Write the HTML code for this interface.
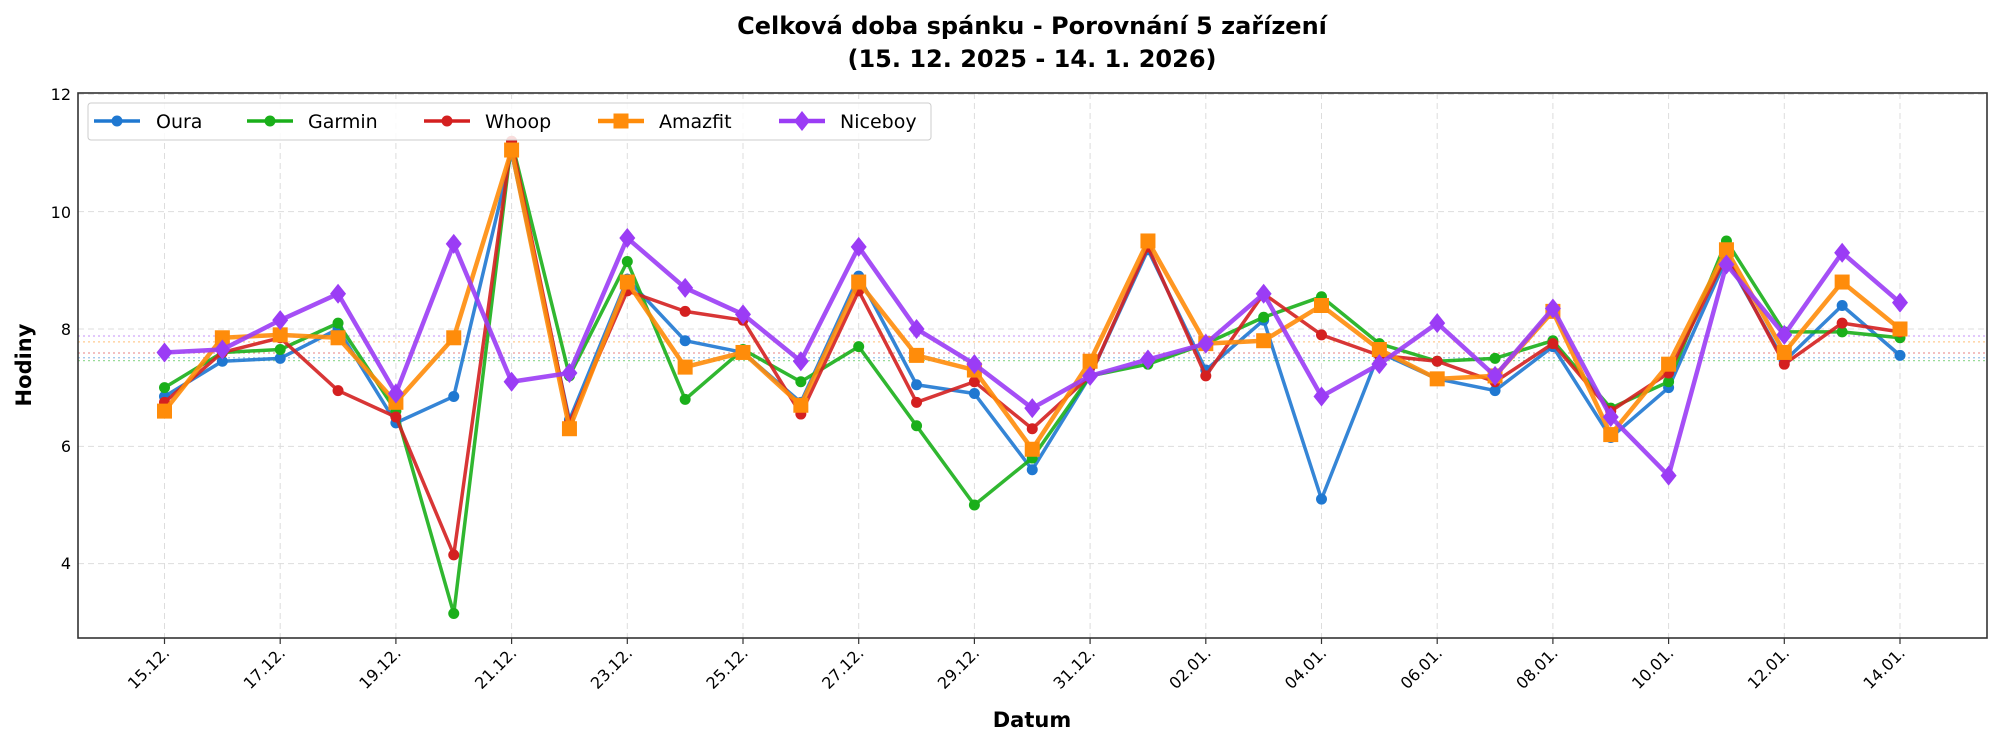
<!DOCTYPE html>
<html><head><meta charset="utf-8"><style>
html,body{margin:0;padding:0;background:#fff}
svg{display:block}
text{font-family:"DejaVu Sans","Liberation Sans",sans-serif}
</style></head><body>
<svg id="s" width="2000" height="745" xmlns="http://www.w3.org/2000/svg">
<rect width="2000" height="745" fill="#fff"/>
<g id="grid"></g>
<g id="series"></g>
<rect x="78" y="93" width="1909" height="545" fill="none" stroke="#333" stroke-width="1.6"/>
<text x="1032" y="34" text-anchor="middle" font-size="24" font-weight="bold">Celková doba spánku - Porovnání 5 zařízení</text>
<text x="1032" y="67" text-anchor="middle" font-size="24" font-weight="bold">(15. 12. 2025 - 14. 1. 2026)</text>
<text transform="translate(31,365) rotate(-90)" text-anchor="middle" font-size="21" font-weight="bold">Hodiny</text>
<text x="1032" y="727" text-anchor="middle" font-size="21" font-weight="bold">Datum</text>
<g font-size="16" text-anchor="end">
<text x="71" y="569">4</text>
<text x="71" y="452">6</text>
<text x="71" y="335">8</text>
<text x="71" y="218">10</text>
<text x="71" y="100">12</text>
</g>
<g id="xt" font-size="16" text-anchor="end"></g>
<g id="legend">
<rect x="88" y="103" width="843" height="37" rx="3" fill="#fff" fill-opacity="0.85" stroke="#ccc"/>
<g font-size="19">
<text x="156" y="128">Oura</text>
<text x="308" y="128">Garmin</text>
<text x="485" y="128">Whoop</text>
<text x="659" y="128">Amazfit</text>
<text x="840" y="128">Niceboy</text>
</g>
</g>
</svg>
<script>
const NS="http://www.w3.org/2000/svg";
const X=i=>164.5+57.85*i, Y=v=>94.3+(12-v)*58.67;
function el(p,t,a){const e=document.createElementNS(NS,t);for(const k in a)e.setAttribute(k,a[k]);p.appendChild(e);return e;}
const g=document.getElementById('grid'),xt=document.getElementById('xt');
[4,6,8,10,12].forEach(v=>el(g,'line',{x1:78,x2:1987,y1:Y(v),y2:Y(v),stroke:'#ddd','stroke-dasharray':'6,4','stroke-width':1}));
const labs=["15.12.","17.12.","19.12.","21.12.","23.12.","25.12.","27.12.","29.12.","31.12.","02.01.","04.01.","06.01.","08.01.","10.01.","12.01.","14.01."];
labs.forEach((l,k)=>{const x=X(2*k);
el(g,'line',{x1:x,x2:x,y1:93,y2:638,stroke:'#ddd','stroke-dasharray':'6,4','stroke-width':1});
el(g,'line',{x1:x,x2:x,y1:638,y2:644,stroke:'#333','stroke-width':1.2});
const t=el(xt,'text',{transform:`translate(${x+6},${654}) rotate(-45)`});t.textContent=l;});
const S=[
{c:'#1f78d1',w:3.5,m:'o',ms:5.5,mean:7.51,d:[6.85,7.45,7.5,8.0,6.4,6.85,11.0,6.45,8.85,7.8,7.6,6.75,8.9,7.05,6.9,5.6,7.2,9.35,7.3,8.15,5.1,7.6,7.15,6.95,7.7,6.15,7.0,9.2,7.45,8.4,7.55]},
{c:'#1aaf1a',w:3.5,m:'o',ms:5.5,mean:7.46,d:[7.0,7.6,7.65,8.1,6.6,3.15,11.2,7.2,9.15,6.8,7.65,7.1,7.7,6.35,5.0,5.8,7.2,7.4,7.75,8.2,8.55,7.75,7.45,7.5,7.8,6.65,7.1,9.5,7.95,7.95,7.85]},
{c:'#d42020',w:3.5,m:'o',ms:5.5,mean:7.59,d:[6.75,7.6,7.85,6.95,6.5,4.15,11.2,6.4,8.65,8.3,8.15,6.55,8.65,6.75,7.1,6.3,7.2,9.4,7.2,8.6,7.9,7.55,7.45,7.1,7.75,6.6,7.25,9.25,7.4,8.1,7.95]},
{c:'#ff8c0a',w:4.5,m:'s',ms:7.5,mean:7.78,d:[6.6,7.85,7.9,7.85,6.75,7.85,11.05,6.3,8.8,7.35,7.6,6.7,8.8,7.55,7.3,5.95,7.45,9.5,7.75,7.8,8.4,7.65,7.15,7.2,8.3,6.2,7.4,9.35,7.6,8.8,8.0]},
{c:'#9b3cf5',w:4.5,m:'d',ms:10,mean:7.88,d:[7.6,7.65,8.15,8.6,6.9,9.45,7.1,7.25,9.55,8.7,8.25,7.45,9.4,8.0,7.4,6.65,7.2,7.48,7.75,8.6,6.85,7.4,8.1,7.2,8.35,6.5,5.5,9.1,7.9,9.3,8.45]}];
const sg=document.getElementById('series');
S.forEach(s=>el(sg,'line',{x1:78,x2:1987,y1:Y(s.mean),y2:Y(s.mean),stroke:s.c,'stroke-opacity':0.45,'stroke-dasharray':'2,3','stroke-width':1.3}));
function mk(p,s,x,y){
 if(s.m==='o')el(p,'circle',{cx:x,cy:y,r:s.ms,fill:s.c});
 else if(s.m==='s')el(p,'rect',{x:x-s.ms,y:y-s.ms,width:2*s.ms,height:2*s.ms,fill:s.c});
 else el(p,'polygon',{points:`${x},${y-s.ms} ${x+s.ms*0.8},${y} ${x},${y+s.ms} ${x-s.ms*0.8},${y}`,fill:s.c});
}
S.forEach(s=>{
 el(sg,'polyline',{points:s.d.map((v,i)=>X(i)+','+Y(v)).join(' '),fill:'none',stroke:s.c,'stroke-width':s.w,'stroke-opacity':0.9,'stroke-linejoin':'round'});
 s.d.forEach((v,i)=>mk(sg,s,X(i),Y(v)));
});
const lg=document.getElementById('legend');
const lx=[94,247,424,598,779];
S.forEach((s,k)=>{el(lg,'line',{x1:lx[k],x2:lx[k]+46,y1:121,y2:121,stroke:s.c,'stroke-width':s.w});mk(lg,s,lx[k]+23,121);});
</script>
</body></html>
